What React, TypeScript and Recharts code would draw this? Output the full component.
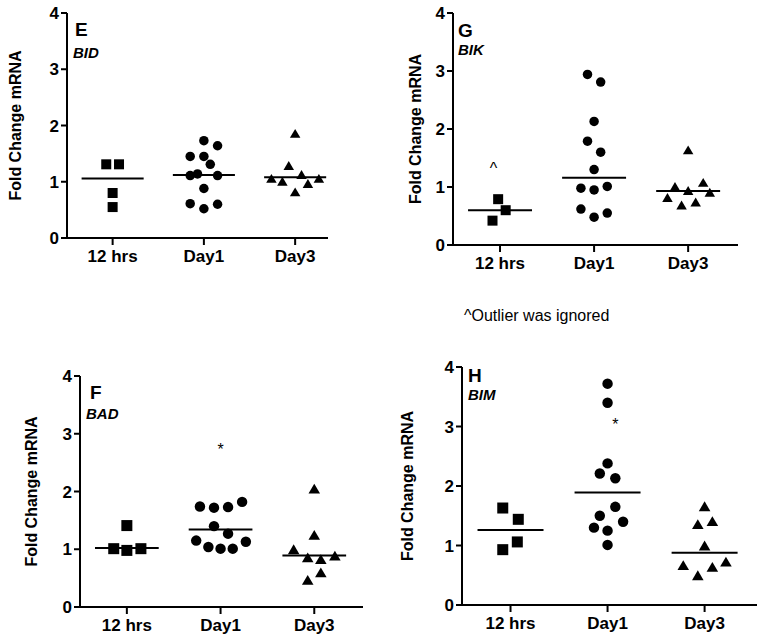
import React from "react";
import { ScatterChart, Scatter, XAxis, YAxis, ReferenceLine, Label } from "recharts";

const FONT = '"Liberation Sans", Arial, sans-serif';

const categories = ["12 hrs", "Day1", "Day3"];
const yTicks = [0, 1, 2, 3, 4];

// E - BID
const bid12h = [
  { x: 0.93, y: 1.31 }, { x: 1.07, y: 1.31 }, { x: 1.0, y: 0.8 }, { x: 1.0, y: 0.55 },
];
const bidDay1 = [
  { x: 2.0, y: 1.73 }, { x: 2.15, y: 1.64 }, { x: 1.85, y: 1.45 }, { x: 2.0, y: 1.45 },
  { x: 2.07, y: 1.31 }, { x: 1.85, y: 1.11 }, { x: 1.93, y: 1.14 }, { x: 2.15, y: 1.11 },
  { x: 2.0, y: 0.88 }, { x: 1.85, y: 0.61 }, { x: 2.15, y: 0.6 }, { x: 2.0, y: 0.52 },
];
const bidDay3 = [
  { x: 3.0, y: 1.86 }, { x: 2.93, y: 1.29 }, { x: 2.74, y: 1.06 }, { x: 2.86, y: 1.01 },
  { x: 3.07, y: 1.13 }, { x: 3.26, y: 1.06 }, { x: 3.14, y: 0.97 }, { x: 3.0, y: 0.82 },
];
const bidMedians = [1.06, 1.12, 1.08];

// G - BIK
const bik12h = [{ x: 0.98, y: 0.79 }, { x: 1.06, y: 0.6 }, { x: 0.92, y: 0.42 }];
const bikDay1 = [
  { x: 1.93, y: 2.94 }, { x: 2.07, y: 2.81 }, { x: 2.0, y: 2.13 }, { x: 1.93, y: 1.79 },
  { x: 2.07, y: 1.6 }, { x: 2.0, y: 1.3 }, { x: 1.86, y: 0.98 }, { x: 2.0, y: 0.95 },
  { x: 2.14, y: 1.01 }, { x: 1.86, y: 0.62 }, { x: 2.14, y: 0.55 }, { x: 2.0, y: 0.48 },
];
const bikDay3 = [
  { x: 3.0, y: 1.64 }, { x: 2.86, y: 1.01 }, { x: 2.78, y: 0.82 }, { x: 3.0, y: 0.94 },
  { x: 3.16, y: 1.08 }, { x: 3.23, y: 0.91 }, { x: 2.93, y: 0.69 }, { x: 3.08, y: 0.74 },
];
const bikMedians = [0.6, 1.16, 0.93];
const bikMarks = [{ x: 0.93, y: 1.38, t: "^" }];

// F - BAD
const bad12h = [
  { x: 1.0, y: 1.41 }, { x: 0.86, y: 1.01 }, { x: 1.0, y: 0.98 }, { x: 1.15, y: 1.01 },
];
const badDay1 = [
  { x: 1.78, y: 1.74 }, { x: 1.93, y: 1.72 }, { x: 2.08, y: 1.73 }, { x: 2.23, y: 1.82 },
  { x: 1.93, y: 1.4 }, { x: 2.08, y: 1.27 }, { x: 1.74, y: 1.15 }, { x: 1.87, y: 1.04 },
  { x: 2.0, y: 1.01 }, { x: 2.13, y: 1.01 }, { x: 2.27, y: 1.13 },
];
const badDay3 = [
  { x: 3.0, y: 2.05 }, { x: 3.0, y: 1.25 }, { x: 2.78, y: 1.0 }, { x: 2.93, y: 0.86 },
  { x: 3.07, y: 0.83 }, { x: 3.22, y: 0.89 }, { x: 3.07, y: 0.6 }, { x: 2.93, y: 0.47 },
];
const badMedians = [1.02, 1.34, 0.89];
const badMarks = [{ x: 2.0, y: 2.78, t: "*" }];

// H - BIM
const bim12h = [
  { x: 0.92, y: 1.63 }, { x: 1.08, y: 1.44 }, { x: 1.07, y: 1.06 }, { x: 0.92, y: 0.93 },
];
const bimDay1 = [
  { x: 2.0, y: 3.72 }, { x: 2.0, y: 3.4 }, { x: 2.0, y: 2.38 }, { x: 1.92, y: 2.21 },
  { x: 2.08, y: 2.13 }, { x: 2.08, y: 1.65 }, { x: 1.92, y: 1.5 }, { x: 1.86, y: 1.3 },
  { x: 2.16, y: 1.4 }, { x: 2.0, y: 1.25 }, { x: 2.0, y: 1.01 },
];
const bimDay3 = [
  { x: 3.0, y: 1.66 }, { x: 2.93, y: 1.36 }, { x: 3.08, y: 1.41 }, { x: 3.0, y: 1.0 },
  { x: 2.78, y: 0.67 }, { x: 3.08, y: 0.64 }, { x: 3.22, y: 0.73 }, { x: 2.93, y: 0.5 },
];
const bimMedians = [1.26, 1.89, 0.88];
const bimMarks = [{ x: 2.08, y: 3.1, t: "*" }];

const square = (s: number) => (p: any) =>
  <rect x={p.cx - s / 2} y={p.cy - s / 2} width={s} height={s} fill="#000" />;
const circle = (s: number) => (p: any) =>
  <circle cx={p.cx} cy={p.cy} r={s / 2} fill="#000" />;
const triangle = (s: number) => (p: any) => {
  const h = s * 0.85;
  return (
    <polygon
      points={`${p.cx},${p.cy - h / 2} ${p.cx - s / 2},${p.cy + h / 2} ${p.cx + s / 2},${p.cy + h / 2}`}
      fill="#000"
    />
  );
};
const markText = (p: any) => (
  <text x={p.cx} y={p.cy + 9} textAnchor="middle" fontSize={16} fontFamily={FONT} fill="#000">
    {p.payload.t}
  </text>
);

type PanelProps = {
  left: number; top: number; width: number; height: number;
  plot: number[]; // page coords: left, top, right, bottom
  xMax: number;
  groups: any[][];
  medians: number[];
  marks?: any[];
  letter: string; gene: string;
  titleX: number;
  letterAt: number[]; geneAt: number[];
  note?: number[];
  size: number;
};

function Panel(props: PanelProps) {
  const { left, top, width, height, plot, xMax, groups, medians, marks, size } = props;
  const yW = 50;
  const xH = 40;
  const margin = {
    left: plot[0] - left - yW,
    top: plot[1] - top,
    right: left + width - plot[2],
    bottom: top + height - plot[3] - xH,
  };
  const tx = (v: number) => v - left;
  const ty = (v: number) => v - top;
  const midY = ty((plot[1] + plot[3]) / 2);
  const texts = () => (
    <g fontFamily={FONT} fill="#000">
      <text
        x={tx(props.titleX)} y={midY} textAnchor="middle" dominantBaseline="central"
        fontSize={16} fontWeight="bold" transform={`rotate(-90, ${tx(props.titleX)}, ${midY})`}
      >
        Fold Change mRNA
      </text>
      <text x={tx(props.letterAt[0])} y={ty(props.letterAt[1])} fontSize={19} fontWeight="bold">
        {props.letter}
      </text>
      <text x={tx(props.geneAt[0])} y={ty(props.geneAt[1])} fontSize={15} fontWeight="bold" fontStyle="italic">
        {props.gene}
      </text>
      {props.note && (
        <text x={tx(props.note[0])} y={ty(props.note[1])} fontSize={16}>
          ^Outlier was ignored
        </text>
      )}
    </g>
  );
  const axisStyle = { stroke: "#000", strokeWidth: 2 };
  const tickStyle = { fill: "#000", fontSize: 17, fontWeight: "bold", fontFamily: FONT };
  const shapes = [square(size), circle(size * 0.95), triangle(size * 1.05)];
  return (
    <div style={{ position: "absolute", left, top }}>
      <ScatterChart width={width} height={height} margin={margin}>
        <XAxis
          type="number" dataKey="x" domain={[0.5, xMax]} ticks={[1, 2, 3]} interval={0}
          allowDataOverflow tickFormatter={(v: number) => categories[v - 1]}
          height={xH} axisLine={axisStyle} tickLine={axisStyle} tickSize={7} tickMargin={5}
          tick={tickStyle}
        />
        <YAxis
          type="number" dataKey="y" domain={[0, 4]} ticks={yTicks} interval={0}
          width={yW} axisLine={axisStyle} tickLine={axisStyle} tickSize={6} tickMargin={2}
          tick={tickStyle}
        >
          <Label content={texts} />
        </YAxis>
        {medians.map((m, i) => (
          <ReferenceLine
            key={i}
            segment={[{ x: i + 1 - 0.34, y: m }, { x: i + 1 + 0.34, y: m }]}
            stroke="#000" strokeWidth={2}
          />
        ))}
        {groups.map((g, i) => (
          <Scatter key={i} data={g} shape={shapes[i]} isAnimationActive={false} />
        ))}
        {marks && <Scatter data={marks} shape={markText} isAnimationActive={false} />}
      </ScatterChart>
    </div>
  );
}

export default function App() {
  return (
    <div style={{ position: "absolute", left: 0, top: 0, width: 762, height: 641, background: "#fff" }}>
      <Panel
        left={0} top={0} width={340} height={300} plot={[67, 13, 328, 238]} xMax={3.36}
        groups={[bid12h, bidDay1, bidDay3]} medians={bidMedians} size={10}
        letter="E" gene="BID" titleX={15} letterAt={[75, 36]} geneAt={[73, 58]}
      />
      <Panel
        left={380} top={0} width={382} height={340} plot={[453, 13, 738, 245]} xMax={3.53}
        groups={[bik12h, bikDay1, bikDay3]} medians={bikMedians} marks={bikMarks} size={10}
        letter="G" gene="BIK" titleX={415} letterAt={[458, 37]} geneAt={[458, 55]}
        note={[464, 321]}
      />
      <Panel
        left={0} top={340} width={380} height={300} plot={[80, 376, 363, 607]} xMax={3.52}
        groups={[bad12h, badDay1, badDay3]} medians={badMedians} marks={badMarks} size={11}
        letter="F" gene="BAD" titleX={31} letterAt={[90, 399]} geneAt={[86, 419]}
      />
      <Panel
        left={380} top={340} width={382} height={300} plot={[462, 367, 757, 605]} xMax={3.54}
        groups={[bim12h, bimDay1, bimDay3]} medians={bimMedians} marks={bimMarks} size={11}
        letter="H" gene="BIM" titleX={407} letterAt={[468, 382]} geneAt={[468, 400]}
      />
    </div>
  );
}
